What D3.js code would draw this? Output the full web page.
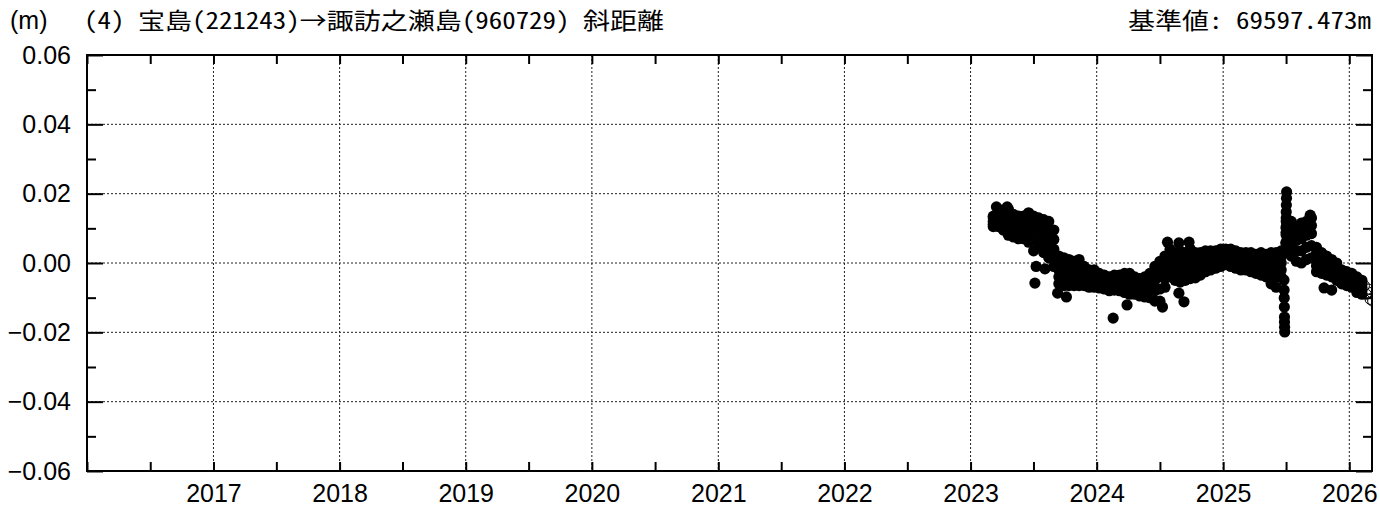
<!DOCTYPE html>
<html>
<head>
<meta charset="utf-8">
<script src="https://cdn.jsdelivr.net/npm/d3@7"></script>
<style>
  body { margin: 0; background: #fff; }
  svg { display: block; }
</style>
</head>
<body>
<div id="chart"></div>
<script>
var epochs = [2023.18, 2023.22, 2023.26, 2023.30, 2023.34, 2023.38, 2023.42, 2023.46, 2023.50, 2023.54,
  2023.58, 2023.62, 2023.66, 2023.70, 2023.74, 2023.78, 2023.82, 2023.86, 2023.90, 2023.94,
  2023.98, 2024.02, 2024.06, 2024.10, 2024.14, 2024.18, 2024.22, 2024.26, 2024.30, 2024.34,
  2024.38, 2024.42, 2024.46, 2024.50, 2024.54, 2024.58, 2024.62, 2024.66, 2024.70, 2024.74,
  2024.78, 2024.82, 2024.86, 2024.90, 2024.94, 2024.98, 2025.02, 2025.06, 2025.10, 2025.14,
  2025.18, 2025.22, 2025.26, 2025.30, 2025.34, 2025.38, 2025.42, 2025.46, 2025.50, 2025.54,
  2025.58, 2025.62, 2025.66, 2025.70, 2025.74, 2025.78, 2025.82, 2025.86, 2025.90, 2025.94,
  2025.98, 2026.02, 2026.06, 2026.10];

var bandHigh = [0.0135, 0.0155, 0.015, 0.0155, 0.014, 0.0135, 0.0135, 0.0145, 0.0135, 0.013,
  0.0125, 0.012, 0.0095, 0.002, 0.0015, 0.001, 0.0005, 0.001, -0.001, -0.002,
  -0.002, -0.003, -0.0035, -0.004, -0.0035, -0.0035, -0.003, -0.003, -0.004, -0.0045,
  -0.004, -0.003, -0.001, 0.0005, 0.002, 0.004, 0.003, 0.0035, 0.003, 0.004,
  0.003, 0.003, 0.0035, 0.0035, 0.0035, 0.004, 0.004, 0.004, 0.0035, 0.003,
  0.003, 0.003, 0.0025, 0.003, 0.0025, 0.003, 0.003, 0.0035, 0.012, 0.012,
  0.0105, 0.0115, 0.012, 0.013, 0.0045, 0.003, 0.002, 0.001, 0.0, -0.002,
  -0.0025, -0.003, -0.004, -0.005];

var bandUpper = [0.013, 0.0142, 0.0135, 0.0135, 0.0125, 0.012, 0.012, 0.0128, 0.0118, 0.0112,
  0.0108, 0.0098, 0.0068, 0.0, -0.0008, -0.0012, -0.0012, -0.001, -0.0025, -0.0032,
  -0.0032, -0.004, -0.0045, -0.005, -0.0045, -0.0048, -0.0045, -0.0048, -0.0055, -0.0058,
  -0.0055, -0.0048, -0.003, -0.0018, 0.0, 0.002, 0.0012, 0.0012, 0.001, 0.002,
  0.0015, 0.0015, 0.002, 0.0022, 0.0022, 0.0025, 0.0028, 0.0025, 0.0022, 0.0018,
  0.0015, 0.0015, 0.001, 0.0012, 0.0008, 0.001, 0.0008, 0.0018, 0.010, 0.0095,
  0.0085, 0.0092, 0.010, 0.0108, 0.0028, 0.0015, 0.0005, -0.0002, -0.001, -0.003,
  -0.0035, -0.004, -0.005, -0.006];

var bandMid = [0.012, 0.013, 0.012, 0.0115, 0.011, 0.0105, 0.0105, 0.011, 0.01, 0.0095,
  0.009, 0.0075, 0.004, -0.002, -0.003, -0.0035, -0.003, -0.003, -0.004, -0.0045,
  -0.0045, -0.005, -0.0055, -0.006, -0.0055, -0.006, -0.006, -0.0065, -0.007, -0.007,
  -0.007, -0.0065, -0.005, -0.004, -0.002, 0.0, -0.0005, -0.001, -0.001, 0.0,
  0.0, 0.0, 0.0005, 0.001, 0.001, 0.001, 0.0015, 0.001, 0.001, 0.0005,
  0.0, 0.0, -0.0005, -0.0005, -0.001, -0.001, -0.0015, 0.0, 0.008, 0.007,
  0.0065, 0.007, 0.008, 0.0085, 0.001, 0.0, -0.001, -0.0015, -0.002, -0.004,
  -0.0045, -0.005, -0.006, -0.007];

var bandLower = [0.0112, 0.0118, 0.0108, 0.0098, 0.0092, 0.0088, 0.0088, 0.0085, 0.0068, 0.0072,
  0.006, 0.0045, 0.0015, -0.004, -0.0048, -0.005, -0.0048, -0.0048, -0.0052, -0.0058,
  -0.0058, -0.0061, -0.0065, -0.007, -0.0066, -0.007, -0.0072, -0.0078, -0.008, -0.0082,
  -0.0084, -0.0082, -0.008, -0.0075, -0.0045, -0.002, -0.0028, -0.0032, -0.003, -0.0022,
  -0.0022, -0.0018, -0.001, -0.0005, -0.0002, 0.0, 0.0005, 0.0, -0.0002, -0.0008,
  -0.001, -0.0012, -0.0018, -0.002, -0.0025, -0.0035, -0.0042, -0.002, 0.006, 0.0045,
  0.0035, 0.0035, 0.0045, 0.005, -0.0008, -0.0015, -0.0022, -0.0028, -0.0035, -0.005,
  -0.0055, -0.006, -0.0072, -0.008];

var bandLow = [0.0105, 0.0105, 0.0095, 0.008, 0.0075, 0.007, 0.007, 0.006, 0.0035, 0.005,
  0.003, 0.0015, -0.001, -0.006, -0.0065, -0.0065, -0.0065, -0.0065, -0.0065, -0.007,
  -0.007, -0.0072, -0.0075, -0.008, -0.0078, -0.008, -0.0085, -0.009, -0.009, -0.0095,
  -0.0098, -0.010, -0.011, -0.011, -0.007, -0.004, -0.005, -0.0055, -0.005, -0.0045,
  -0.0043, -0.0035, -0.0025, -0.002, -0.0015, -0.001, -0.0005, -0.001, -0.0015, -0.002,
  -0.002, -0.0025, -0.003, -0.0035, -0.004, -0.006, -0.007, -0.004, 0.004, 0.002,
  0.0005, 0.0, 0.001, 0.0015, -0.0025, -0.003, -0.0035, -0.004, -0.005, -0.006,
  -0.0065, -0.007, -0.0085, -0.009];

// single dots off the band, including the two spikes in mid 2025
var extraT = [2023.205, 2023.29, 2023.51, 2023.52, 2023.59, 2023.69, 2023.76, 2024.13, 2024.24, 2024.52,
  2024.56, 2024.65, 2024.65, 2024.69, 2024.73, 2025.69, 2025.80, 2025.86,
  2025.482, 2025.483, 2025.484, 2025.485, 2025.486, 2025.486, 2025.487, 2025.488,
  2025.497, 2025.498, 2025.499, 2025.500, 2025.500, 2025.501, 2025.502, 2025.503];
var extraV = [0.0162, 0.0162, -0.0058, -0.001, -0.0017, -0.0087, -0.0098, -0.0159, -0.0121, -0.0127,
  0.006, 0.0058, -0.0087, -0.0112, 0.006, 0.0138, -0.0072, -0.0078,
  -0.0049, -0.0078, -0.0101, -0.0127, -0.0156, -0.017, -0.0185, -0.0199,
  0.0058, 0.0087, 0.0104, 0.013, 0.0147, 0.0167, 0.0187, 0.0205];

// latest (open circle) solutions
var rapidT = [2026.12, 2026.135, 2026.15, 2026.165, 2026.175, 2026.185];
var rapidV = [-0.0065, -0.009, -0.0075, -0.0105, -0.0085, -0.011];

var yMajor = [-0.06, -0.04, -0.02, 0.00, 0.02, 0.04, 0.06];
var yMinor = [-0.05, -0.03, -0.01, 0.01, 0.03, 0.05];
var yearLabels = [2017, 2018, 2019, 2020, 2021, 2022, 2023, 2024, 2025, 2026];

var titleText = "(4) 宝島(221243)→諏訪之瀬島(960729) 斜距離";
var baseText = "基準値: 69597.473m";

var W = 1380, H = 509,
    margin = { top: 55, right: 8, bottom: 38, left: 87 },
    width = W - margin.left - margin.right,
    height = H - margin.top - margin.bottom;

var toDate = function (t) {
  var y = Math.floor(t), a = new Date(y, 0, 1), b = new Date(y + 1, 0, 1);
  return new Date(+a + (t - y) * (b - a));
};

var x = d3.scaleTime()
    .domain([new Date(2016, 0, 1), toDate(2026.18)])
    .range([0, width]);
var y = d3.scaleLinear()
    .domain([-0.06, 0.06])
    .range([height, 0]);

var halfYears = [];
for (var yr = 2016; yr <= 2026; yr++) {
  halfYears.push(new Date(yr, 0, 1));
  halfYears.push(new Date(yr, 6, 2));
}
halfYears = halfYears.filter(function (d) { return d >= x.domain()[0] && d <= x.domain()[1]; });

var svg = d3.select("#chart").append("svg")
    .attr("width", W)
    .attr("height", H);

var g = svg.append("g")
    .attr("transform", "translate(" + margin.left + "," + margin.top + ")");

g.append("clipPath").attr("id", "plot")
  .append("rect").attr("width", width).attr("height", height);

// dotted grid
g.append("g").selectAll("line.h")
  .data(yMajor.filter(function (d) { return Math.abs(d) < 0.059; }))
  .enter().append("line")
    .attr("x1", 0).attr("x2", width)
    .attr("y1", function (d) { return y(d); })
    .attr("y2", function (d) { return y(d); })
    .attr("stroke", "#222").attr("stroke-width", 1).attr("stroke-dasharray", "2,2");

g.append("g").selectAll("line.v")
  .data(yearLabels)
  .enter().append("line")
    .attr("x1", function (d) { return x(new Date(d, 0, 1)); })
    .attr("x2", function (d) { return x(new Date(d, 0, 1)); })
    .attr("y1", 0).attr("y2", height)
    .attr("stroke", "#222").attr("stroke-width", 1).attr("stroke-dasharray", "2,2");

// dots
var pts = [];
epochs.forEach(function (t, i) {
  [bandHigh, bandUpper, bandMid, bandLower, bandLow].forEach(function (s) { pts.push([t, s[i]]); });
});
extraT.forEach(function (t, i) { pts.push([t, extraV[i]]); });

var dots = g.append("g").attr("clip-path", "url(#plot)");

dots.selectAll("circle.p")
  .data(pts)
  .enter().append("circle")
    .attr("cx", function (d) { return x(toDate(d[0])); })
    .attr("cy", function (d) { return y(d[1]); })
    .attr("r", 5.6)
    .attr("fill", "#000");

dots.selectAll("circle.r")
  .data(rapidT.map(function (t, i) { return [t, rapidV[i]]; }))
  .enter().append("circle")
    .attr("cx", function (d) { return x(toDate(d[0])); })
    .attr("cy", function (d) { return y(d[1]); })
    .attr("r", 5)
    .attr("fill", "none")
    .attr("stroke", "#000")
    .attr("stroke-width", 1);

// axes with inward ticks
var tickFont = "'Liberation Sans', Arial, Helvetica, sans-serif";

var styleAxis = function (sel) {
  sel.select(".domain").remove();
  sel.selectAll(".tick line").attr("stroke", "#000").attr("stroke-width", 2);
  sel.selectAll("text").attr("font-family", tickFont).attr("font-size", 25).attr("fill", "#000");
};

g.append("g")
  .call(d3.axisLeft(y).tickValues(yMajor).tickSize(-16).tickPadding(16).tickFormat(d3.format(".2f")))
  .call(styleAxis);
g.append("g")
  .call(d3.axisLeft(y).tickValues(yMinor).tickSize(-9).tickFormat(""))
  .call(styleAxis);
g.append("g").attr("transform", "translate(" + width + ",0)")
  .call(d3.axisRight(y).tickValues(yMajor).tickSize(-16).tickFormat(""))
  .call(styleAxis);
g.append("g").attr("transform", "translate(" + width + ",0)")
  .call(d3.axisRight(y).tickValues(yMinor).tickSize(-9).tickFormat(""))
  .call(styleAxis);

g.append("g").attr("transform", "translate(0," + height + ")")
  .call(d3.axisBottom(x).tickValues(halfYears).tickSize(-9).tickPadding(13)
    .tickFormat(function (d) {
      return d.getMonth() === 0 && yearLabels.indexOf(d.getFullYear()) >= 0 ? d.getFullYear() : "";
    }))
  .call(styleAxis);
g.append("g")
  .call(d3.axisTop(x).tickValues(halfYears).tickSize(-9).tickFormat(""))
  .call(styleAxis);

g.append("rect")
  .attr("width", width).attr("height", height)
  .attr("fill", "none").attr("stroke", "#000").attr("stroke-width", 2);

// header texts
svg.append("text")
  .attr("x", 10).attr("y", 29)
  .attr("font-family", tickFont).attr("font-size", 25)
  .text("(m)");

var cjk = "'Noto Sans Mono CJK JP', 'Noto Sans CJK JP', sans-serif";
svg.append("text")
  .attr("x", 84).attr("y", 29)
  .attr("font-family", cjk).attr("font-size", 23)
  .attr("textLength", 580).attr("lengthAdjust", "spacingAndGlyphs")
  .text(titleText);

svg.append("text")
  .attr("x", 1128).attr("y", 29)
  .attr("font-family", cjk).attr("font-size", 23)
  .attr("textLength", 243).attr("lengthAdjust", "spacingAndGlyphs")
  .text(baseText);
</script>
</body>
</html>
